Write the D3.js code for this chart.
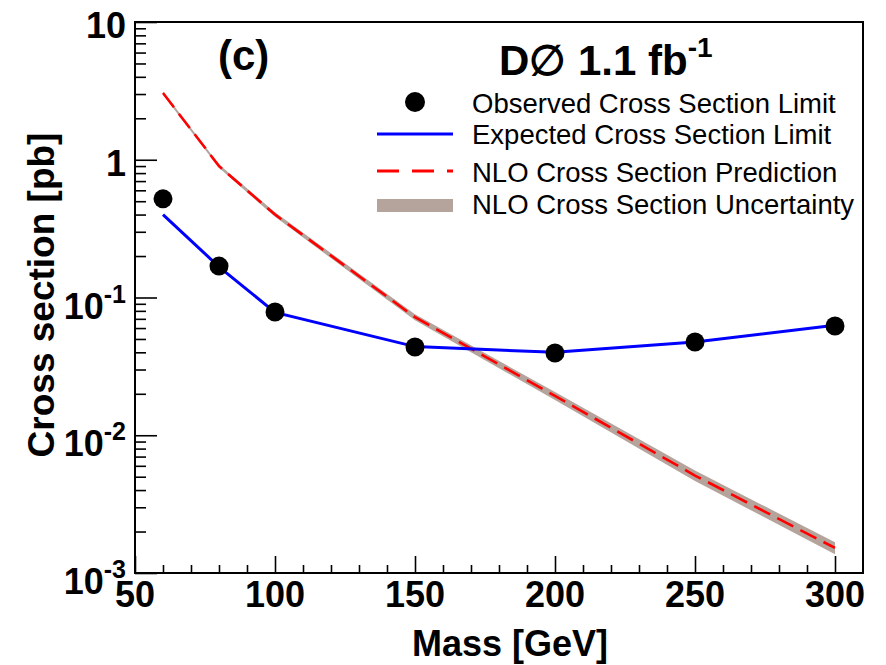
<!DOCTYPE html>
<html>
<head>
<meta charset="utf-8">
<script src="https://cdn.jsdelivr.net/npm/d3@7"></script>
<style>
  html, body { margin: 0; padding: 0; background: #fff; }
  svg text { font-family: "Liberation Sans", Arial, Helvetica, sans-serif; }
</style>
</head>
<body>
<svg id="chart" width="886" height="665"></svg>
<script>
// ---- data ----
const masses = [60, 80, 100, 150, 200, 250, 300];
const observed = [0.52, 0.169, 0.0785, 0.0437, 0.0395, 0.0475, 0.0621];
const expected = [0.40, 0.167, 0.078, 0.044, 0.040, 0.0475, 0.063];
const nloPrediction = [3.05, 0.90, 0.40, 0.072, 0.0193, 0.0051, 0.00152];
const nloLow = [2.97, 0.875, 0.385, 0.0685, 0.0180, 0.00465, 0.00137];
const nloHigh = [3.13, 0.925, 0.415, 0.0755, 0.0206, 0.00555, 0.00167];

const xTickValues = [50, 100, 150, 200, 250, 300];
const xTickLabels = ["50", "100", "150", "200", "250", "300"];
const yTickValues = [10, 1, 0.1, 0.01, 0.001];
const yTickMain = ["10", "1", "10", "10", "10"];
const yTickExp = ["", "", "-1", "-2", "-3"];

const legendLabels = [
  "Observed Cross Section Limit",
  "Expected Cross Section Limit",
  "NLO Cross Section Prediction",
  "NLO Cross Section Uncertainty"
];

// ---- layout ----
const L = 135, R = 863, T = 22, B = 573;
const svg = d3.select("#chart");

const x = d3.scaleLinear().domain([50, 310]).range([L, R]);
const y = d3.scaleLog().domain([0.001, 10]).range([B, T]);

// uncertainty band
const band = d3.area()
  .x((d, i) => x(masses[i]))
  .y0((d, i) => y(nloLow[i]))
  .y1((d, i) => y(nloHigh[i]));
svg.append("path").datum(masses).attr("d", band).attr("fill", "#b5a49c");

// NLO prediction
const lineOf = arr => d3.line().x((d, i) => x(masses[i])).y((d, i) => y(arr[i]));
svg.append("path").datum(masses).attr("d", lineOf(nloPrediction))
  .attr("fill", "none").attr("stroke", "#ff0000").attr("stroke-width", 2.6)
  .attr("stroke-dasharray", "18 8");

// expected
svg.append("path").datum(masses).attr("d", lineOf(expected))
  .attr("fill", "none").attr("stroke", "#0000ff").attr("stroke-width", 3);

// observed
svg.append("g").selectAll("circle").data(masses).join("circle")
  .attr("cx", d => x(d)).attr("cy", (d, i) => y(observed[i]))
  .attr("r", 9.5).attr("fill", "#000");

// ---- axes ----
const xMinor = d3.range(60, 310, 10).filter(v => v % 50 !== 0);
const yMinor = [];
[0.001, 0.01, 0.1, 1].forEach(dec => { for (let k = 2; k <= 9; k++) yMinor.push(dec * k); });

const gx = svg.append("g").attr("transform", `translate(0,${B})`);
gx.call(d3.axisBottom(x).tickValues(xTickValues).tickSizeInner(-17).tickSizeOuter(0).tickFormat(""));
gx.append("g").call(d3.axisBottom(x).tickValues(xMinor).tickSizeInner(-8).tickSizeOuter(0).tickFormat(""));
const gy = svg.append("g").attr("transform", `translate(${L},0)`);
gy.call(d3.axisLeft(y).tickValues(yTickValues).tickSizeInner(-22).tickSizeOuter(0).tickFormat(""));
gy.append("g").call(d3.axisLeft(y).tickValues(yMinor).tickSizeInner(-11).tickSizeOuter(0).tickFormat(""));
svg.selectAll(".tick line").attr("stroke", "#000").attr("stroke-width", 1.6);
svg.selectAll(".domain").attr("stroke", "none");

// frame
svg.append("rect").attr("x", L).attr("y", T).attr("width", R - L).attr("height", B - T)
  .attr("fill", "none").attr("stroke", "#000").attr("stroke-width", 2);

// x tick labels
svg.append("g").selectAll("text").data(xTickValues).join("text")
  .attr("x", d => x(d)).attr("y", 607)
  .attr("text-anchor", "middle").attr("font-size", 36).attr("font-weight", "bold")
  .text((d, i) => xTickLabels[i]);

// y tick labels
yTickValues.forEach((v, i) => {
  const t = svg.append("text").attr("x", 126)
    .attr("y", y(v) + (yTickExp[i] ? 21 : 16))
    .attr("text-anchor", "end").attr("font-size", 36).attr("font-weight", "bold");
  t.append("tspan").text(yTickMain[i]);
  if (yTickExp[i]) {
    t.append("tspan").attr("font-size", 25).attr("dy", -16).text(yTickExp[i]);
  }
});

// axis titles
svg.append("text").attr("x", 510).attr("y", 656).attr("text-anchor", "middle")
  .attr("font-size", 36).attr("font-weight", "bold").text("Mass [GeV]");
svg.append("text").attr("transform", "translate(54,295) rotate(-90)").attr("text-anchor", "middle")
  .attr("font-size", 37).attr("font-weight", "bold").text("Cross section [pb]");

// panel label
svg.append("text").attr("x", 218).attr("y", 70).attr("font-size", 42).attr("font-weight", "bold").text("(c)");

// experiment label
const dz = svg.append("text").attr("x", 499).attr("y", 75).attr("font-size", 42).attr("font-weight", "bold");
dz.append("tspan").text("D\u2205 1.1 fb");
dz.append("tspan").attr("font-size", 28).attr("dy", -18).text("-1");

// legend
const lx0 = 377, lx1 = 453, tx = 472;
const rowY = [102, 134, 171, 205.5];
const rowBase = [113, 144, 182, 214];
svg.append("circle").attr("cx", 415).attr("cy", rowY[0]).attr("r", 10).attr("fill", "#000");
svg.append("line").attr("x1", lx0).attr("x2", lx1).attr("y1", rowY[1]).attr("y2", rowY[1])
  .attr("stroke", "#0000ff").attr("stroke-width", 3);
svg.append("line").attr("x1", lx0).attr("x2", lx1).attr("y1", rowY[2]).attr("y2", rowY[2])
  .attr("stroke", "#ff0000").attr("stroke-width", 3).attr("stroke-dasharray", "22 13");
svg.append("rect").attr("x", lx0).attr("y", rowY[3] - 6.5).attr("width", lx1 - lx0).attr("height", 13)
  .attr("fill", "#b5a49c");
legendLabels.forEach((s, i) => {
  svg.append("text").attr("x", tx).attr("y", rowBase[i]).attr("font-size", 27.5).text(s);
});
</script>
</body>
</html>
